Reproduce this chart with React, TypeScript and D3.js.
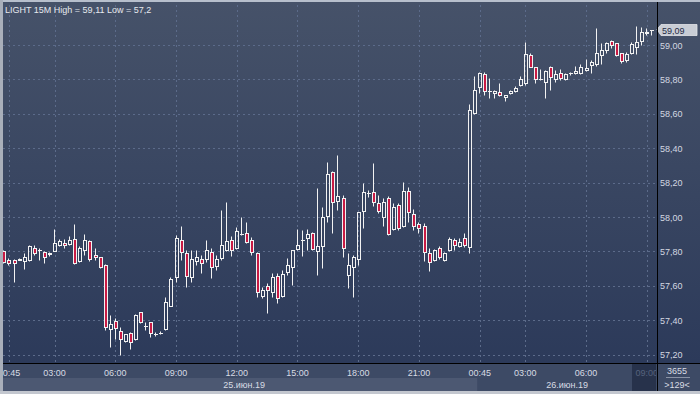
import React from "react";
import * as d3 from "d3";

// 15-minute bars, oldest first
const openP = [
  57.8, 57.75, 57.75, 57.75, 57.746, 57.75, 57.82, 57.81, 57.795, 57.79,
  57.8, 57.835, 57.85, 57.845, 57.875, 57.746, 57.81, 57.86, 57.78, 57.765,
  57.72, 57.35, 57.395, 57.337, 57.28, 57.324, 57.29, 57.446, 57.367, 57.388,
  57.32, 57.327, 57.347, 57.484, 57.653, 57.866, 57.789, 57.65, 57.746, 57.754,
  57.754, 57.795, 57.717, 57.763, 57.81, 57.866, 57.818, 57.9, 57.905, 57.866,
  57.789, 57.542, 57.6, 57.566, 57.657, 57.542, 57.679, 57.708, 57.814, 57.866,
  57.876, 57.905, 57.804, 57.833, 58.008, 58.26, 58.095, 58.109, 57.663, 57.708,
  57.754, 58.037, 58.141, 58.147, 58.08, 57.998, 58.109, 57.928, 58.07, 57.948,
  58.153, 58.017, 57.958, 57.948, 57.789, 57.75, 57.818, 57.752, 57.81, 57.866,
  57.831, 57.876, 57.827, 58.606, 58.758, 58.831, 58.733, 58.719, 58.728, 58.696,
  58.719, 58.734, 58.767, 58.777, 58.942, 58.87, 58.802, 58.787, 58.87, 58.802,
  58.835, 58.8, 58.835, 58.835, 58.835, 58.855, 58.885, 58.888, 58.942, 58.97,
  59.025, 59.01, 58.953, 58.915, 58.955, 58.99, 59.025, 59.068, 59.09,
];
const highP = [
  57.81, 57.76, 57.755, 57.76, 57.79, 57.835, 57.84, 57.82, 57.8, 57.795,
  57.93, 57.87, 57.87, 57.89, 57.96, 57.83, 57.9, 57.865, 57.82, 57.77,
  57.725, 57.43, 57.41, 57.36, 57.32, 57.33, 57.435, 57.45, 57.39, 57.39,
  57.33, 57.335, 57.537, 57.653, 57.895, 57.948, 57.808, 57.808, 57.808, 57.78,
  57.866, 57.818, 57.78, 58.04, 58.085, 57.89, 57.944, 58.0, 57.973, 57.885,
  57.795, 57.595, 57.616, 57.673, 57.673, 57.692, 57.76, 57.81, 57.93, 57.924,
  57.93, 57.91, 58.167, 58.06, 58.318, 58.27, 58.36, 58.128, 57.789, 57.78,
  58.03, 58.196, 58.157, 58.316, 58.128, 58.109, 58.122, 58.081, 58.083, 58.205,
  58.176, 58.045, 57.973, 57.967, 57.818, 57.812, 57.831, 57.795, 57.882, 57.876,
  57.878, 57.905, 58.657, 58.82, 58.845, 58.845, 58.806, 58.737, 58.777, 58.712,
  58.74, 58.763, 58.82, 59.016, 58.952, 58.875, 58.859, 58.855, 58.876, 58.855,
  58.859, 58.84, 58.841, 58.878, 58.888, 58.917, 58.913, 59.1, 59.01, 59.02,
  59.03, 59.013, 58.955, 58.96, 59.02, 59.11, 59.103, 59.1, 59.09,
];
const lowP = [
  57.73, 57.72, 57.62, 57.75, 57.7, 57.745, 57.78, 57.75, 57.735, 57.775,
  57.8, 57.83, 57.82, 57.84, 57.725, 57.74, 57.78, 57.746, 57.75, 57.705,
  57.343, 57.246, 57.29, 57.2, 57.275, 57.233, 57.285, 57.385, 57.343, 57.304,
  57.31, 57.32, 57.345, 57.48, 57.624, 57.75, 57.595, 57.624, 57.72, 57.676,
  57.74, 57.647, 57.69, 57.75, 57.8, 57.773, 57.815, 57.895, 57.847, 57.78,
  57.537, 57.527, 57.442, 57.537, 57.502, 57.535, 57.66, 57.605, 57.81, 57.773,
  57.81, 57.81, 57.663, 57.705, 57.97, 57.905, 58.04, 57.766, 57.585, 57.537,
  57.721, 57.934, 58.118, 58.064, 58.025, 57.948, 57.895, 57.924, 57.924, 57.94,
  57.973, 57.924, 57.905, 57.746, 57.686, 57.745, 57.754, 57.745, 57.8, 57.81,
  57.826, 57.824, 57.789, 58.6, 58.719, 58.709, 58.69, 58.69, 58.703, 58.676,
  58.715, 58.729, 58.763, 58.767, 58.87, 58.777, 58.797, 58.694, 58.738, 58.787,
  58.797, 58.795, 58.826, 58.83, 58.83, 58.849, 58.835, 58.88, 58.89, 58.952,
  58.985, 58.936, 58.895, 58.9, 58.948, 58.948, 59.0, 59.058, 59.06,
];
const closeP = [
  57.74, 57.735, 57.735, 57.755, 57.77, 57.83, 57.79, 57.81, 57.766, 57.785,
  57.847, 57.86, 57.837, 57.865, 57.734, 57.82, 57.866, 57.754, 57.765, 57.71,
  57.36, 57.376, 57.356, 57.29, 57.318, 57.275, 57.43, 57.39, 57.367, 57.324,
  57.32, 57.327, 57.504, 57.638, 57.876, 57.795, 57.657, 57.754, 57.766, 57.734,
  57.808, 57.708, 57.754, 57.837, 57.86, 57.808, 57.919, 57.9, 57.856, 57.795,
  57.566, 57.576, 57.576, 57.653, 57.527, 57.669, 57.721, 57.808, 57.837, 57.866,
  57.901, 57.814, 57.831, 57.998, 58.25, 58.085, 58.124, 57.818, 57.721, 57.766,
  58.027, 58.147, 58.141, 58.085, 58.037, 58.087, 57.901, 58.06, 57.934, 58.151,
  58.027, 57.948, 57.934, 57.795, 57.737, 57.808, 57.766, 57.79, 57.874, 57.835,
  57.856, 57.837, 58.622, 58.738, 58.839, 58.734, 58.733, 58.734, 58.709, 58.709,
  58.733, 58.752, 58.802, 58.948, 58.874, 58.8, 58.802, 58.851, 58.816, 58.831,
  58.806, 58.83, 58.835, 58.849, 58.87, 58.868, 58.899, 58.955, 58.971, 59.012,
  59.0, 58.942, 58.907, 58.95, 59.005, 59.017, 59.077, 59.077, 59.09,
];

const tickIndex = [1, 10, 22, 34, 46, 58, 70, 82, 94, 103, 115, 127];
const tickLabel = ["00:45", "03:00", "06:00", "09:00", "12:00", "15:00", "18:00", "21:00", "00:45", "03:00", "06:00", "09:00"];
const priceTicks = [57.2, 57.4, 57.6, 57.8, 58.0, 58.2, 58.4, 58.6, 58.8, 59.0];
const dayLabel = ["25.июн.19", "26.июн.19"];
const dayStart = [0, 94];
const lastPrice = 59.09;
const title = "LIGHT 15M High = 59,11 Low = 57,2";
const totalBars = "3655";
const shownBars = ">129<";

const W = 700;
const H = 394;
const plotL = 3;
const plotR = 657;
const plotB = 363;
const font = "'Liberation Sans', Arial, sans-serif";

const fmt = (v: number) => d3.format(".2f")(v).replace(".", ",");

export default function App() {
  const n = closeP.length;
  const x = d3.scaleLinear().domain([0, n - 1]).range([3.9, 3.9 + (n - 1) * 5.062]);
  const y = d3.scaleLinear().domain([57.2, 59.0]).range([354.6, 45]);
  const step = x(1) - x(0);
  const px = (v: number) => Math.round(v) + 0.5;

  const dayEdges = dayStart.map((d, i) => (i === 0 ? plotL : x(d) - step / 2));
  const dayEnds = dayEdges.map((e, i) => (i < dayEdges.length - 1 ? dayEdges[i + 1] : plotR));
  const lastTickX = x(tickIndex[tickIndex.length - 1]);

  return (
    <div style={{ width: W, height: H }}>
      <style>{"body{margin:0}"}</style>
      <svg width={W} height={H} style={{ display: "block" }} fontFamily={font}>
        <defs>
          <linearGradient id="bg" x1="0" y1="0" x2="0" y2="1">
            <stop offset="0" stopColor="#465269" />
            <stop offset="1" stopColor="#2c3a5a" />
          </linearGradient>
          <clipPath id="plot">
            <rect x={plotL} y={0} width={plotR - plotL} height={plotB} />
          </clipPath>
          <clipPath id="curbox">
            <rect x={632} y={364} width={24} height={27} />
          </clipPath>
        </defs>

        <rect x={0} y={0} width={W} height={plotB} fill="url(#bg)" />

        <g clipPath="url(#plot)">
          {priceTicks.map((p) => (
            <line key={p} x1={plotL} x2={plotR} y1={px(y(p))} y2={px(y(p))}
              stroke="#5c6b8a" strokeDasharray="2,3" />
          ))}
          {tickIndex.map((t, i) => (
            <line key={i} x1={px(x(t))} x2={px(x(t))} y1={0} y2={plotB}
              stroke="#5c6b8a" strokeDasharray="2,3" />
          ))}

          {closeP.map((c, i) => {
            const o = openP[i];
            const cx = Math.floor(x(i)) + 0.5;
            const top = px(y(Math.max(o, c)));
            const bot = px(y(Math.min(o, c)));
            const hi = px(y(highP[i]));
            const lo = px(y(lowP[i]));
            const down = c < o;
            return (
              <g key={i} stroke="#f2f2f2" strokeWidth={1}>
                {hi < top && <line x1={cx} x2={cx} y1={hi} y2={top} />}
                {lo > bot && <line x1={cx} x2={cx} y1={bot} y2={lo} />}
                {bot - top >= 1 ? (
                  <rect x={cx - 1} y={top} width={3} height={bot - top}
                    fill={down ? "#c81a44" : "none"} />
                ) : (
                  <line x1={cx - 1.5} x2={cx + 2.5} y1={top} y2={top} />
                )}
              </g>
            );
          })}
        </g>

        <text x={5} y={13} fontSize={9} fill="#e6e9ee">{title}</text>

        {/* right price axis */}
        {priceTicks.map((p) => (
          <text key={p} x={660} y={y(p) + 3.5} fontSize={9} fill="#d3d8e1">{fmt(p)}</text>
        ))}
        <path
          d={`M${plotR},${y(lastPrice)} L${plotR + 4},${y(lastPrice) - 5} L697,${y(lastPrice) - 5} L697,${y(lastPrice) + 6} L${plotR + 4},${y(lastPrice) + 6} Z`}
          fill="#c9cdd5" stroke="#e4e6ea" strokeWidth={0.8}
        />
        <text x={662} y={y(lastPrice) + 4} fontSize={9} fill="#1f2a44">{fmt(lastPrice)}</text>

        {/* time axis */}
        <rect x={0} y={364} width={W} height={27} fill="#3d4a65" />
        <rect x={dayEdges[0]} y={378} width={dayEnds[0] - dayEdges[0]} height={13} fill="#4c5872" />
        <rect x={632} y={364} width={24} height={27} fill="#27324b" />
        {tickIndex.slice(0, -1).map((t, i) => (
          <text key={i} x={x(t)} y={376} fontSize={9} fill="#d8dce4" textAnchor="middle">{tickLabel[i]}</text>
        ))}
        <g clipPath="url(#curbox)">
          <text x={lastTickX} y={376} fontSize={9} fill="#56627d" textAnchor="middle">
            {tickLabel[tickLabel.length - 1]}
          </text>
        </g>
        {dayLabel.map((d, i) => (
          <text key={d} x={(dayEdges[i] + dayEnds[i]) / 2 + (i === 0 ? 4 : 0)} y={388} fontSize={9} fill="#d8dce4" textAnchor="middle">{d}</text>
        ))}

        <text x={677} y={374} fontSize={9} fill="#d8dce4" textAnchor="middle">{totalBars}</text>
        <line x1={666} x2={690} y1={377.5} y2={377.5} stroke="#8a93a6" />
        <text x={677} y={388} fontSize={9} fill="#d8dce4" textAnchor="middle">{shownBars}</text>

        {/* frame lines */}
        <line x1={plotR + 0.5} x2={plotR + 0.5} y1={0} y2={391} stroke="#000" />
        <line x1={0} x2={W} y1={plotB + 0.5} y2={plotB + 0.5} stroke="#000" />
        <rect x={0} y={0} width={W} height={2} fill="#b7bfcc" />
        <rect x={0} y={0} width={plotL} height={H} fill="#a9afba" />
        <rect x={0} y={391} width={W} height={3} fill="#c3c7cf" />
      </svg>
    </div>
  );
}
